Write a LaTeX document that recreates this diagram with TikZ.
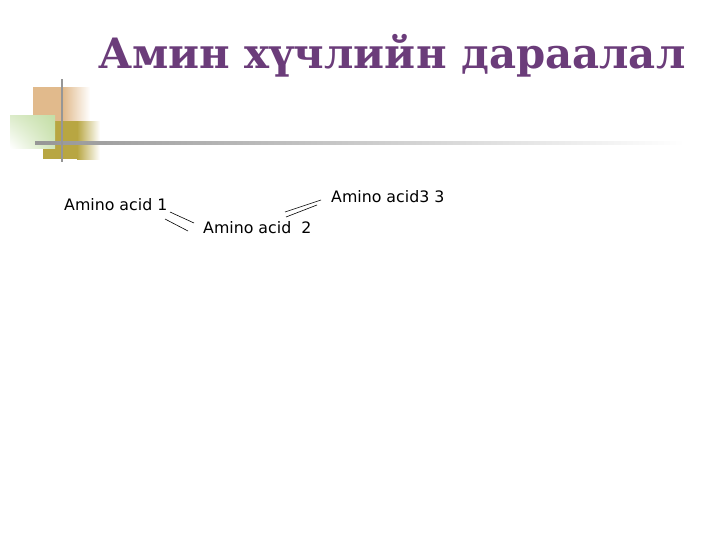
\documentclass[tikz,border=0pt]{standalone}
\usepackage{fontspec}
\usetikzlibrary{shadings}
\setmainfont{DejaVu Serif}
\newfontfamily\labelfont{DejaVu Sans}
\definecolor{titlepurple}{RGB}{107,60,122}
\definecolor{sqtan}{RGB}{225,186,140}
\definecolor{sqgreen}{RGB}{196,222,166}
\definecolor{sqolive}{RGB}{184,166,66}
\definecolor{rulegray}{RGB}{150,150,150}
\tikzset{
  aalabel/.style={font=\labelfont\fontsize{15.8}{18}\selectfont, inner sep=0pt, anchor=west},
  bond/.style={black, line width=0.6pt}
}
\begin{document}
\begin{tikzpicture}[x=1pt,y=-1pt]
\useasboundingbox (0,0) rectangle (728,546);
\fill[white] (0,0) rectangle (728,546);

% corner squares
\fill[sqtan] (33,87) rectangle (63,121);
\shade[left color=sqtan, right color=white] (63,87) rectangle (90,121);
\fill[sqolive] (43,121) rectangle (77,159);
\shade[left color=sqolive, right color=white] (77,121) rectangle (100,159);
\shade[upper right=sqgreen, lower left=white, upper left=sqgreen!60!white, lower right=sqgreen!80!white] (10,115) rectangle (55,148);

% rules
\shade[left color=rulegray, middle color=rulegray!75!white, right color=white] (35,141.8) rectangle (685,144.2);
\fill[rulegray] (60.5,79) rectangle (62.5,162);

% title
\node[font=\bfseries\fontsize{41.8}{48}\selectfont, text=titlepurple, anchor=base west, inner sep=0pt] (title) at (98,68) {Амин хүчлийн дараалал};

% amino acids
\node[aalabel] (aa1) at (64,205) {Amino acid 1};
\node[aalabel] (aa2) at (203,228) {Amino acid~~2};
\node[aalabel] (aa3) at (331,197) {Amino acid3 3};

\coordinate (b1a) at (170,212);
\coordinate (b1b) at (194,223);
\coordinate (b2a) at (165,219);
\coordinate (b2b) at (188,231);
\coordinate (b3a) at (285,212);
\coordinate (b3b) at (321,200);
\coordinate (b4a) at (286,217);
\coordinate (b4b) at (317,205);

\draw[bond] (b1a)--(b1b);
\draw[bond] (b2a)--(b2b);
\draw[bond] (b3a)--(b3b);
\draw[bond] (b4a)--(b4b);
\end{tikzpicture}
\end{document}
